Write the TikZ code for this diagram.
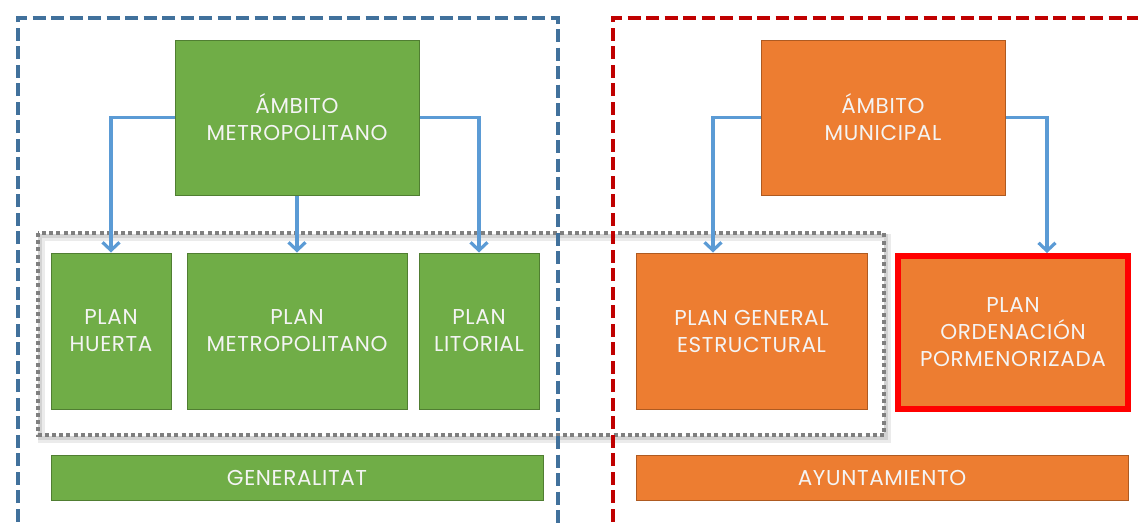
\documentclass[tikz,border=0pt]{standalone}
\usepackage{fontspec}
\setmainfont{Poppins}[LetterSpace=3]
\usetikzlibrary{arrows.meta}
\definecolor{gfill}{HTML}{70AD47}
\definecolor{gline}{HTML}{507E32}
\definecolor{ofill}{HTML}{ED7D31}
\definecolor{oline}{HTML}{AE5A21}
\definecolor{bdash}{HTML}{41719C}
\definecolor{rdash}{HTML}{C00000}
\definecolor{arrc}{HTML}{5B9BD5}
\definecolor{dotc}{HTML}{7F7F7F}
\definecolor{txt}{HTML}{F4F4F4}
\tikzset{
  gbox/.style={draw=gline, fill=gfill, line width=1pt, inner sep=0pt, text=txt, align=center,
    font=\fontsize{21.5}{27}\selectfont},
  obox/.style={draw=oline, fill=ofill, line width=1pt, inner sep=0pt, text=txt, align=center,
    font=\fontsize{21.5}{27}\selectfont},
  arr/.style={draw=arrc, line width=3.2pt, -{Straight Barb[length=8pt,width=17pt,line width=3.2pt]}},
  dashb/.style={draw=bdash, line width=4.5pt, dash pattern=on 13pt off 5.5pt},
  dashr/.style={draw=rdash, line width=4.5pt, dash pattern=on 13pt off 5.5pt},
  dotbox/.style={draw=dotc, line width=4pt, dash pattern=on 4pt off 3.2pt},
}
\begin{document}
\begin{tikzpicture}[x=1pt,y=-1pt]
\useasboundingbox (0,0) rectangle (1138,525);
\fill[white] (0,0) rectangle (1138,525);
% dotted group with shadow
\draw[black, opacity=0.08, line width=7pt] (41,237) rectangle (887,439);
\draw[black, opacity=0.10, line width=4pt] (40,236) rectangle (886,438);
\draw[dotbox] (38,233) rectangle (884,435);
% dashed areas
\draw[dashb] (18,540) -- (18,18) -- (558,18) -- (558,540);
\draw[dashr] (613,540) -- (613,18) -- (1160,18);
% top boxes
\node[gbox, minimum width=244pt, minimum height=155pt] (mt) at (297,117.5) {ÁMBITO\\METROPOLITANO};
\node[obox, minimum width=244pt, minimum height=155pt] (mu) at (883,117.5) {ÁMBITO\\MUNICIPAL};
% plan boxes
\node[gbox, minimum width=120pt, minimum height=156pt] (ph) at (111,331) {PLAN\\HUERTA};
\node[gbox, minimum width=220pt, minimum height=156pt] (pm) at (297,331) {PLAN\\METROPOLITANO};
\node[gbox, minimum width=120pt, minimum height=156pt] (pl) at (479,331) {PLAN\\LITORIAL};
\node[obox, minimum width=231pt, minimum height=156pt] (pg) at (751.5,331) {PLAN GENERAL\\ESTRUCTURAL};
\node[obox, draw=red, line width=6pt, minimum width=230pt, minimum height=153pt] (po) at (1013,332.5) {PLAN\\ORDENACIÓN\\PORMENORIZADA};
% bottom bars
\node[gbox, minimum width=492pt, minimum height=45pt] (ge) at (297,477.5) {GENERALITAT};
\node[obox, minimum width=492pt, minimum height=45pt] (ay) at (882,477.5) {AYUNTAMIENTO};
% arrows
\draw[arr] (mt.west) -| (ph.north);
\draw[arr] (mt.south) -- (pm.north);
\draw[arr] (mt.east) -| (pl.north);
\draw[arr] (mu.west) -| ([xshift=-38.5pt]pg.north);
\draw[arr] (mu.east) -| ([xshift=34pt]po.north);
\end{tikzpicture}
\end{document}
